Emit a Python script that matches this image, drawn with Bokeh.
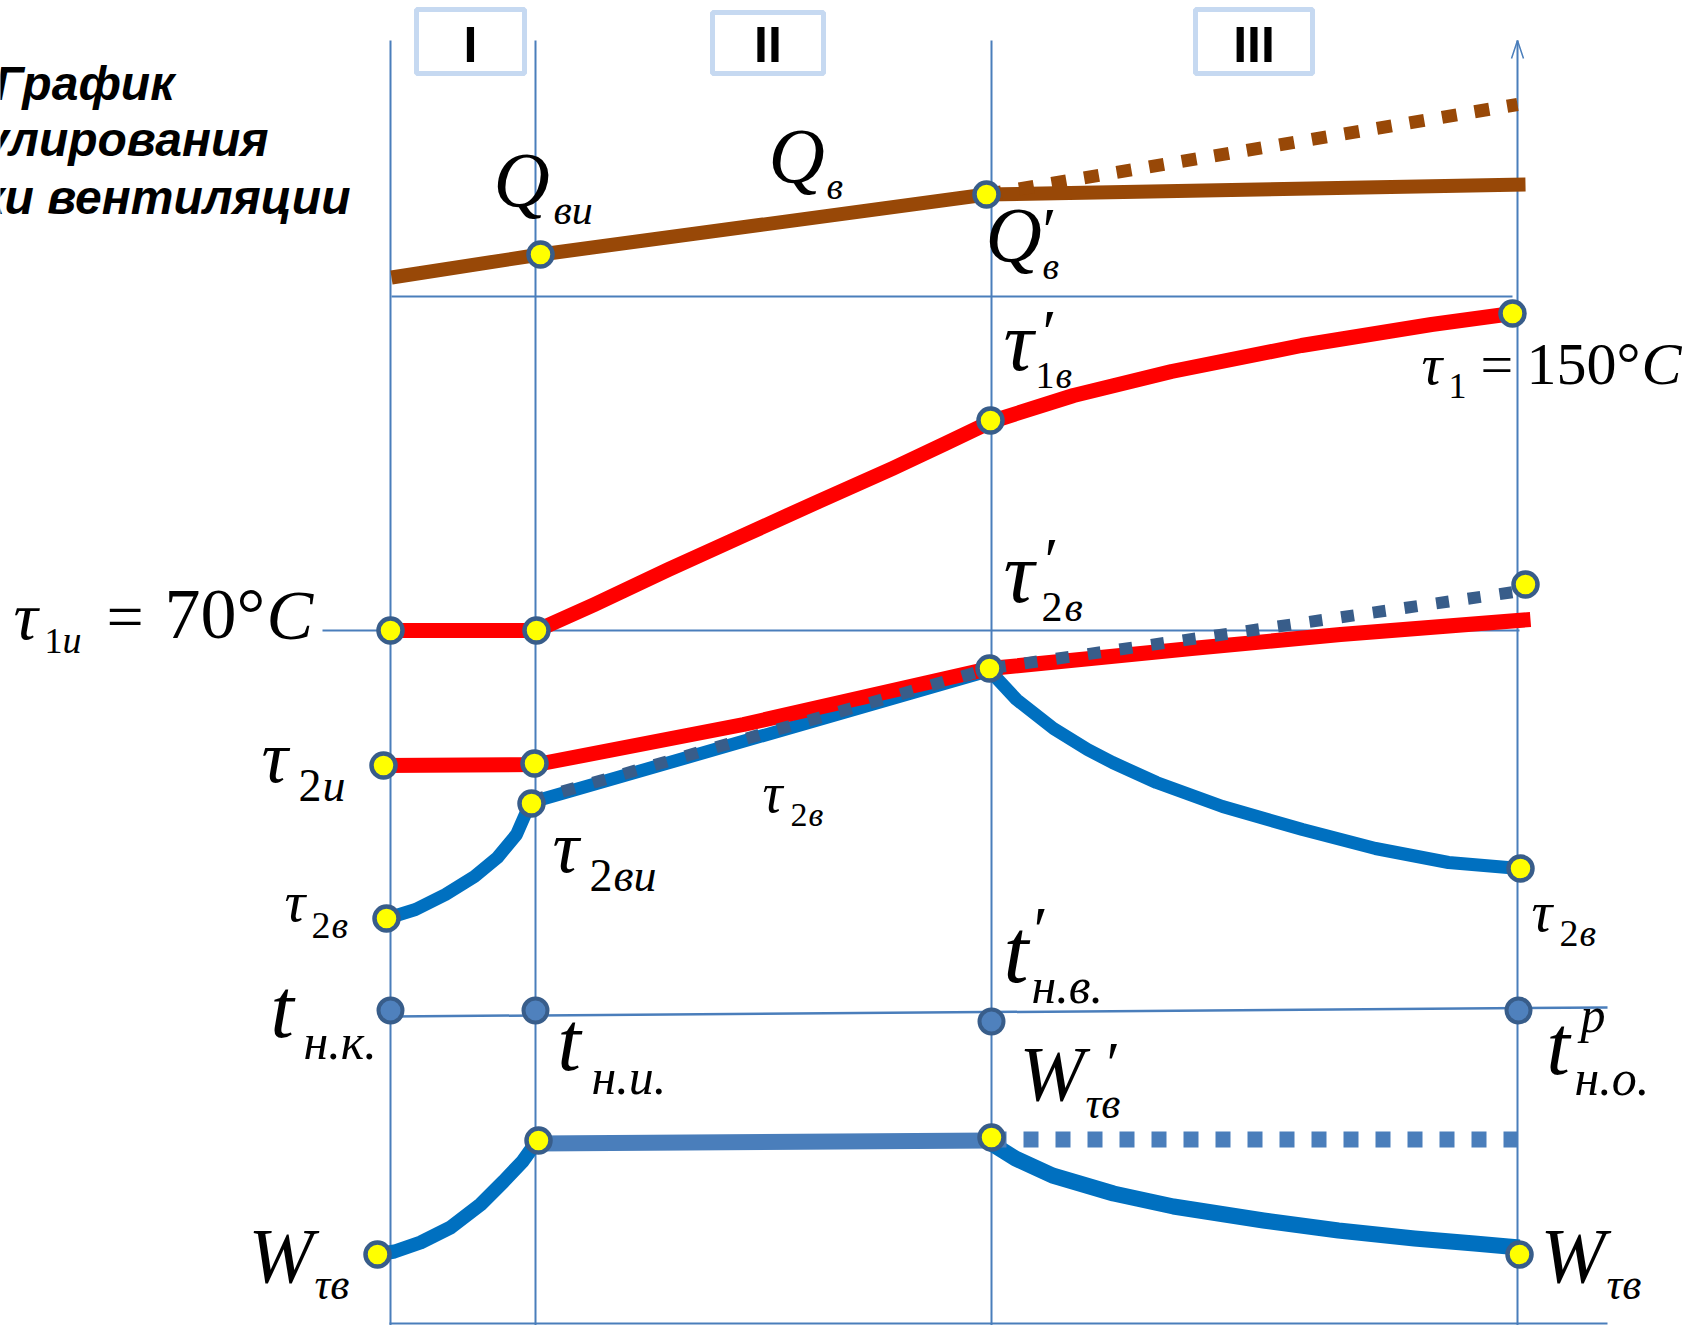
from bokeh.plotting import figure
from bokeh.models import Range1d, ColumnDataSource
from bokeh.core.properties import value
from bokeh.embed import file_html
from bokeh.resources import INLINE

W, H = 1703, 1325

# ---------------------------------------------------------------------------
# Diagram data.  Both coordinates are diagram units (x grows with the outdoor
# temperature towards t_н.о., y grows downwards on the sheet).
# ---------------------------------------------------------------------------

# characteristic outdoor temperatures: tн.к., tн.и., t'н.в., tрн.о.
T_NODE_X = [390, 535, 991, 1518]
T_NODE_Y = [1010, 1010, 1021, 1010]
T_LINE_X = [391, 1607]
T_LINE_Y = [1016, 1007]

# ventilation heat load Q
Q_X = [391, 540, 986, 1525]
Q_Y = [277, 254, 194, 184]
Q_DASH_X = [986, 1517]
Q_DASH_Y = [194, 104]

# supply water temperature τ1
TAU1_X = [391, 536, 594, 668, 743, 818, 892, 945, 991, 1073, 1171, 1301, 1431, 1512]
TAU1_Y = [630, 630, 604, 569, 535, 501, 468, 443, 421, 395, 371, 345, 324, 313]

# return water temperature τ2 of the heating network
TAU2_X = [383, 536, 743, 989, 1191, 1340, 1530]
TAU2_Y = [765, 764, 724, 668, 648, 634, 619]

# return water temperature after ventilation heaters τ2в
TAU2V_X = [386, 415, 445, 474, 497, 516, 530, 989, 1016, 1053, 1087, 1112,
           1156, 1222, 1302, 1375, 1448, 1519]
TAU2V_Y = [918, 909, 894, 876, 857, 834, 802, 670, 699, 728, 749, 762,
           782, 806, 829, 848, 862, 868]
TAU2V_DASH_X = [531, 989, 1524]
TAU2V_DASH_Y = [800, 668, 590]

# water flow equivalent Wτв
W_LEFT_X = [377, 394, 420, 450, 480, 503, 522, 537]
W_LEFT_Y = [1254, 1251, 1242, 1227, 1204, 1181, 1161, 1140]
W_FLAT_X = [536, 991]
W_FLAT_Y = [1143, 1140]
W_DASH_X = [991, 1517]
W_DASH_Y = [1139, 1139]
W_RIGHT_X = [991, 1015, 1052, 1113, 1173, 1263, 1338, 1414, 1474, 1519]
W_RIGHT_Y = [1143, 1158, 1175, 1193, 1206, 1220, 1230, 1238, 1243, 1247]

# characteristic points on the curves
PT_X = [540, 986, 390, 536, 990, 1512, 383, 534, 386, 531, 989, 1520, 1525,
        377, 538, 991, 1519]
PT_Y = [254, 194, 630, 630, 420, 313, 765, 763, 918, 803, 668, 868, 584,
        1254, 1140, 1137, 1254]

REGIMES = ["I", "II", "III"]
TITLE_LINES = ["График", "регулирования", "нагрузки вентиляции"]

# ---------------------------------------------------------------------------
# Layout of the sheet
# ---------------------------------------------------------------------------
GRID_V_X = [390, 535, 991, 1517]
GRID_TOP, GRID_BOTTOM = 40, 1325
H_LINES = [([391, 1512], [296, 296]),
           ([322, 1519], [630, 630]),
           ([389, 1607], [1323, 1323])]

BOX_CX = [470, 767.5, 1253.5]
BOX_CY = [41, 42.5, 41]
BOX_W = [108, 111, 117]
BOX_H = [64, 61, 64]
BOX_TEXT_BASE = 60
BOX_TEXT_SIZE = 50

TITLE_RIGHT = [174, 268, 350]
TITLE_BASE = [98, 154, 212]

# formula pieces: text, left x, baseline y, size px, style
SERIF = "Liberation Serif"
PIECES = [
    # Q_ви
    ("Q", 493, 204, 78, "italic"), ("ви", 553, 223, 42, "italic"),
    # Q_в
    ("Q", 768, 180, 78, "italic"), ("в", 826, 198, 38, "italic"),
    # Q'_в
    ("Q", 985, 259, 78, "italic"), ("′", 1042, 250, 64, "normal"), ("в", 1042, 278, 38, "italic"),
    # τ'_1в
    ("τ", 1003, 368, 84, "italic"), ("′", 1042, 352, 64, "normal"),
    ("1", 1035, 387, 38, "normal"), ("в", 1055, 387, 38, "italic"),
    # τ1 = 150°C
    ("τ", 1421, 383, 58, "italic"), ("1", 1448, 397, 36, "normal"),
    ("=", 1480, 383, 58, "normal"), ("150°", 1526, 383, 60, "normal"), ("C", 1641, 383, 60, "italic"),
    # τ1и = 70°C
    ("τ", 13, 637, 68, "italic"), ("1", 44, 652, 36, "normal"), ("и", 62, 652, 38, "italic"),
    ("=", 106, 637, 66, "normal"), ("70°", 164, 637, 72, "normal"), ("C", 266, 637, 70, "italic"),
    # τ'_2в
    ("τ", 1003, 600, 86, "italic"), ("′", 1044, 580, 64, "normal"),
    ("2", 1041, 620, 42, "normal"), ("в", 1064, 620, 42, "italic"),
    # τ2и
    ("τ", 261, 780, 74, "italic"), ("2", 298, 800, 46, "normal"), ("и", 322, 800, 46, "italic"),
    # τ2ви
    ("τ", 552, 870, 74, "italic"), ("2", 589, 890, 46, "normal"), ("ви", 613, 890, 46, "italic"),
    # τ2в (middle)
    ("τ", 762, 810, 56, "italic"), ("2", 790, 825, 34, "normal"), ("в", 808, 825, 34, "italic"),
    # τ2в (left)
    ("τ", 284, 920, 58, "italic"), ("2", 311, 937, 38, "normal"), ("в", 331, 937, 38, "italic"),
    # τ2в (right)
    ("τ", 1531, 930, 58, "italic"), ("2", 1559, 945, 38, "normal"), ("в", 1579, 945, 38, "italic"),
    # t_н.к.
    ("t", 270, 1035, 84, "italic"), ("н.к.", 303, 1057, 50, "italic"),
    # t_н.и.
    ("t", 557, 1068, 84, "italic"), ("н.и.", 591, 1092, 50, "italic"),
    # t'_н.в.
    ("t", 1003, 980, 90, "italic"), ("′", 1033, 950, 66, "normal"), ("н.в.", 1031, 1001, 50, "italic"),
    # t^р_н.о.
    ("t", 1546, 1072, 84, "italic"), ("р", 1580, 1030, 50, "italic"), ("н.о.", 1574, 1093, 50, "italic"),
    # W'_τв
    ("W", 1019, 1098, 78, "italic"), ("′", 1106, 1082, 62, "normal"), ("τв", 1085, 1117, 44, "italic"),
    # Wτв (left)
    ("W", 248, 1280, 78, "italic"), ("τв", 314, 1298, 44, "italic"),
    # Wτв (right)
    ("W", 1540, 1280, 78, "italic"), ("τв", 1606, 1298, 44, "italic"),
]

# Bokeh's alphabetic anchor sits a little below the true baseline in the SVG
# output; lift every text by this share of its font size.
BASELINE_LIFT = 0.32

# ---------------------------------------------------------------------------
C_GRID = "#4A7EBB"
C_BROWN = "#984807"
C_RED = "#FF0000"
C_BLUE = "#0070C0"
C_DARK = "#385D8A"
C_STEEL = "#4A7EBB"
C_BOX = "#C6D9F1"

p = figure(width=W, height=H, output_backend="svg", toolbar_location=None,
           x_range=Range1d(0, W), y_range=Range1d(H, 0),
           x_axis_type=None, y_axis_type=None, min_border=0,
           outline_line_color=None, background_fill_color="white",
           border_fill_color="white")

# thin frame lines
for gx in GRID_V_X:
    p.line([gx, gx], [GRID_TOP, GRID_BOTTOM], line_color=C_GRID, line_width=2)
for xs, ys in H_LINES:
    p.line(xs, ys, line_color=C_GRID, line_width=2)
p.line(T_LINE_X, T_LINE_Y, line_color=C_GRID, line_width=2.5)
# arrow head on the right axis
ax = GRID_V_X[-1]
p.line([ax - 6, ax, ax + 6], [GRID_TOP + 18, GRID_TOP, GRID_TOP + 18],
       line_color=C_GRID, line_width=1.5)

# regime boxes
p.rect(BOX_CX, BOX_CY, BOX_W, BOX_H, fill_color="white", line_color=C_BOX, line_width=5)
p.text(BOX_CX, [BOX_TEXT_BASE - BASELINE_LIFT * BOX_TEXT_SIZE] * 3, text=REGIMES,
       text_font=value("Liberation Sans"), text_font_style="bold",
       text_font_size=f"{BOX_TEXT_SIZE}px", text_align="center",
       text_baseline="alphabetic", text_color="black")

# heat load Q
p.line(Q_X, Q_Y, line_color=C_BROWN, line_width=14)
p.line(Q_DASH_X, Q_DASH_Y, line_color=C_BROWN, line_width=13, line_dash="15 18")

# τ1
p.line(TAU1_X, TAU1_Y, line_color=C_RED, line_width=15, line_join="round")
# τ2в solid (under the τ2 line)
p.line(TAU2V_X, TAU2V_Y, line_color=C_BLUE, line_width=13, line_join="round")
# τ2
p.line(TAU2_X, TAU2_Y, line_color=C_RED, line_width=15, line_join="round")
# τ2в without the ventilation limitation
p.line(TAU2V_DASH_X, TAU2V_DASH_Y, line_color=C_DARK, line_width=12, line_dash="13 19")

# Wτв
p.line(W_LEFT_X, W_LEFT_Y, line_color=C_BLUE, line_width=14, line_join="round")
p.line(W_RIGHT_X, W_RIGHT_Y, line_color=C_BLUE, line_width=16, line_join="round")
p.line(W_FLAT_X, W_FLAT_Y, line_color=C_STEEL, line_width=16)
p.line(W_DASH_X, W_DASH_Y, line_color=C_STEEL, line_width=16, line_dash="15 17")

# points
p.scatter(T_NODE_X, T_NODE_Y, size=24, fill_color="#4F81BD", line_color=C_DARK, line_width=4)
p.scatter(PT_X, PT_Y, size=24, fill_color="#FFFF00", line_color=C_DARK, line_width=4.5)

# formula labels
src = ColumnDataSource(dict(
    x=[q[1] for q in PIECES],
    y=[q[2] - BASELINE_LIFT * q[3] for q in PIECES],
    text=[q[0] for q in PIECES],
    size=[f"{q[3]}px" for q in PIECES],
    style=[q[4] for q in PIECES],
))
p.text(x="x", y="y", text="text", source=src, text_font=value(SERIF),
       text_font_size="size", text_font_style="style", text_align="left",
       text_baseline="alphabetic", text_color="black")

# title, cut by the left edge of the sheet
p.text(TITLE_RIGHT, [b - BASELINE_LIFT * 48 for b in TITLE_BASE], text=TITLE_LINES,
       text_font=value("Liberation Sans"), text_font_style="bold italic",
       text_font_size="48px", text_align="right", text_baseline="alphabetic",
       text_color="black")

open("out.html", "w").write(file_html(p, INLINE))
